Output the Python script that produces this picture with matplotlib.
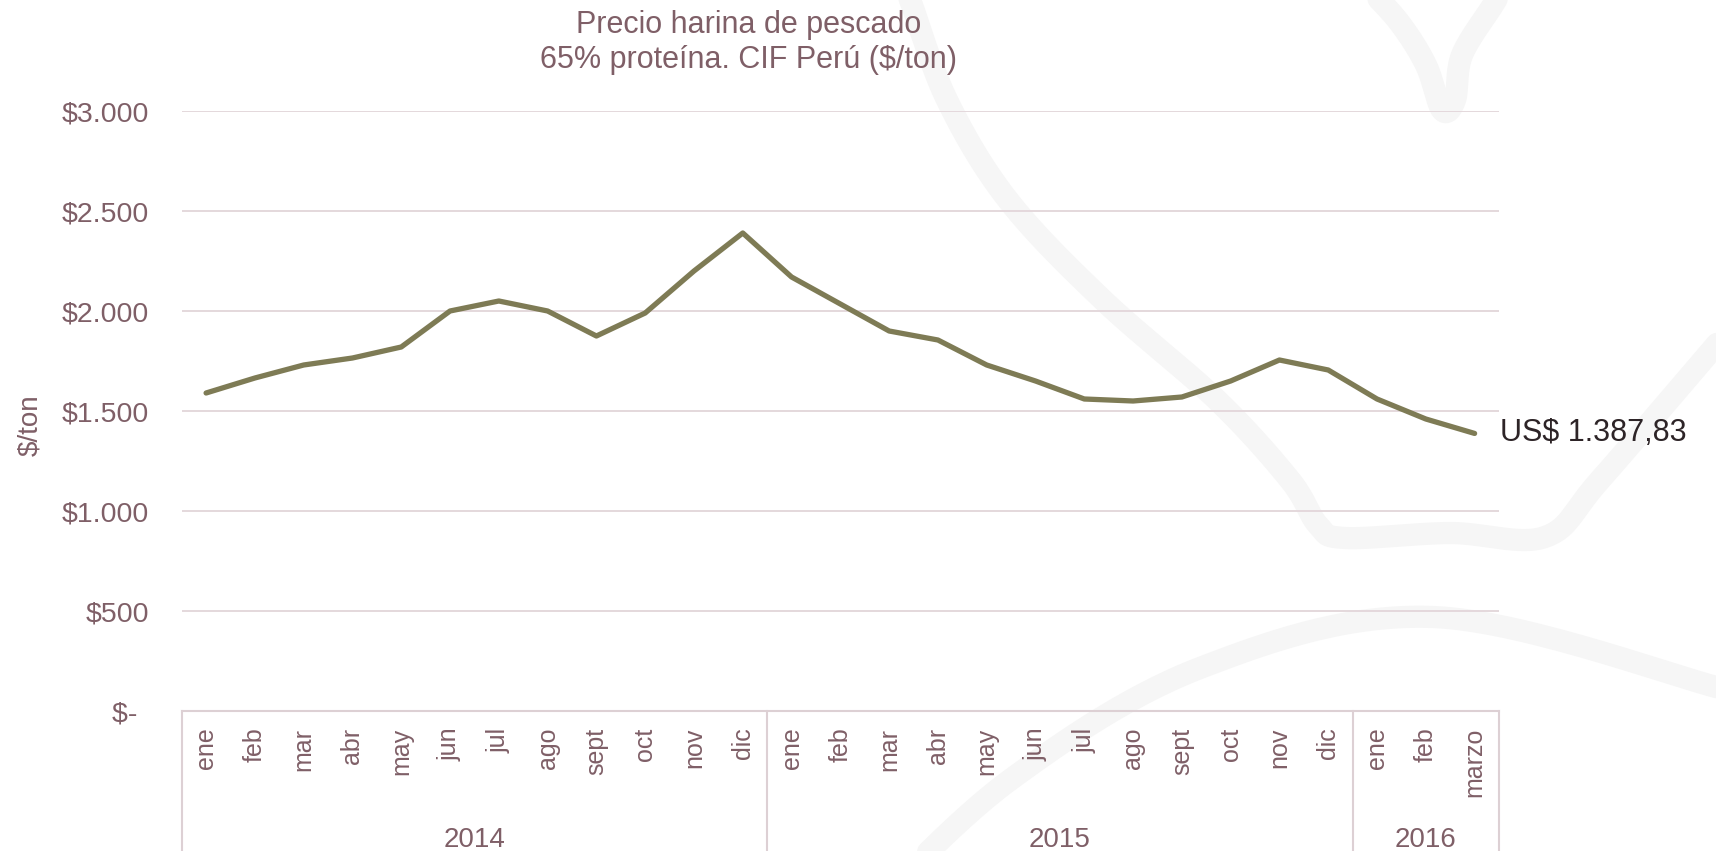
import numpy as np
import matplotlib
matplotlib.use("Agg")
import matplotlib.pyplot as plt
from matplotlib.transforms import blended_transform_factory
from matplotlib.lines import Line2D

plt.rcParams['font.family'] = ['Liberation Sans', 'DejaVu Sans']

# ---------------- data ----------------
months = ["ene", "feb", "mar", "abr", "may", "jun", "jul", "ago", "sept", "oct", "nov", "dic",
          "ene", "feb", "mar", "abr", "may", "jun", "jul", "ago", "sept", "oct", "nov", "dic",
          "ene", "feb", "marzo"]
years = ["2014", "2015", "2016"]
year_counts = [12, 12, 3]
prices = [1590, 1665, 1730, 1765, 1820, 2000, 2050, 2000, 1875, 1990, 2200, 2390,
          2170, 2035, 1900, 1855, 1730, 1650, 1560, 1550, 1570, 1650, 1755, 1705,
          1560, 1460, 1387.83]
y_ticks = [0, 500, 1000, 1500, 2000, 2500, 3000]
y_tick_labels = ["$-\u2009\u2009", "$500", "$1.000", "$1.500", "$2.000", "$2.500", "$3.000"]
title_lines = ["Precio harina de pescado", "65% proteína. CIF Perú ($/ton)"]
y_label = "$/ton"
end_label = "US$ 1.387,83"

# ---------------- style ----------------
W, H = 1716, 851
TXT = "#7f5f67"
LINE = "#7e7b55"
GRID = "#e4d8dc"
SEP = "#ddd0d4"
WM = "#f6f6f6"

fig = plt.figure(figsize=(W / 100, H / 100), dpi=100)
fig.patch.set_facecolor("white")

# ---------- decorative watermark (background) ----------
bg = fig.add_axes([0, 0, 1, 1], zorder=0)
bg.set_xlim(0, W)
bg.set_ylim(H, 0)
bg.axis("off")


def catmull(pts, n=30):
    p = np.array(pts, float)
    p = np.vstack([p[0], p, p[-1]])
    out = []
    for i in range(1, len(p) - 2):
        p0, p1, p2, p3 = p[i - 1], p[i], p[i + 1], p[i + 2]
        t = np.linspace(0, 1, n)[:, None]
        seg = 0.5 * ((2 * p1) + (-p0 + p2) * t + (2 * p0 - 5 * p1 + 4 * p2 - p3) * t ** 2
                     + (-p0 + 3 * p1 - 3 * p2 + p3) * t ** 3)
        out.append(seg)
    return np.vstack(out)


wm_curves = [
    [(895, -30), (910, 0), (947, 100), (1008, 200), (1103, 300), (1217, 400),
     (1290, 480), (1318, 525), (1345, 538), (1450, 533), (1545, 537), (1600, 480),
     (1716, 345), (1740, 318)],
    [(1365, -15), (1399, 22), (1426, 65), (1442, 110), (1455, 100), (1462, 55),
     (1493, 5), (1505, -15)],
    [(870, 910), (1010, 780), (1200, 668), (1433, 617), (1716, 687), (1760, 705)],
]
for c in wm_curves:
    xy = catmull(c)
    bg.plot(xy[:, 0], xy[:, 1], color=WM, lw=16, solid_capstyle="round", zorder=0)

# ---------------- main axes ----------------
left, right = 181.7 / W, 1499 / W
bottom, top = 1 - 711 / H, 1 - 111 / H
ax = fig.add_axes([left, bottom, right - left, top - bottom], zorder=1)
ax.patch.set_alpha(0)

x = np.arange(len(months))
ax.plot(x, prices, color=LINE, lw=3.8, solid_capstyle="round", zorder=3)

ax.set_xlim(-0.5, len(months) - 0.5)
ax.set_ylim(0, 3000)
ax.set_yticks(y_ticks)
ax.set_yticklabels(y_tick_labels)
ax.tick_params(axis="y", length=0, pad=23.5, labelsize=20.5, labelcolor=TXT)
for t in y_ticks[1:]:
    ax.axhline(t, color=GRID, lw=1.4, zorder=1)

ax.set_xticks(x)
ax.set_xticklabels(months, rotation=90)
ax.tick_params(axis="x", length=0, pad=12, labelsize=18, labelcolor=TXT)

for s in ["top", "right", "left"]:
    ax.spines[s].set_visible(False)
ax.spines["bottom"].set_color(SEP)
ax.spines["bottom"].set_linewidth(1.5)

ax.set_ylabel(y_label, fontsize=20, color=TXT)
ax.yaxis.set_label_coords(30 / W, 0.5, transform=fig.transFigure)
ax.yaxis.label.set_verticalalignment("center")

# group separators and year labels
tr = blended_transform_factory(ax.transData, fig.transFigure)
edges = np.concatenate([[0], np.cumsum(year_counts)]) - 0.5
for e in edges:
    ax.add_line(Line2D([e, e], [bottom, 0], transform=tr, color=SEP, lw=1.5, clip_on=False))
for i, yr in enumerate(years):
    cx = (edges[i] + edges[i + 1]) / 2
    ax.text(cx, 1 - 847 / H, yr, transform=tr, ha="center", va="baseline",
            fontsize=20, color=TXT)

# end label
ax.annotate(end_label, xy=(x[-1], prices[-1]), xytext=(18, 0), textcoords="offset points",
            ha="left", va="center", fontsize=22, color="#2d2427", annotation_clip=False)

# title
fig.text(749 / W, 1 - 33 / H, title_lines[0], ha="center", va="baseline", fontsize=22, color=TXT)
fig.text(749 / W, 1 - 68 / H, title_lines[1], ha="center", va="baseline", fontsize=22, color=TXT)

fig.savefig("out.png", dpi=100, facecolor="white")
